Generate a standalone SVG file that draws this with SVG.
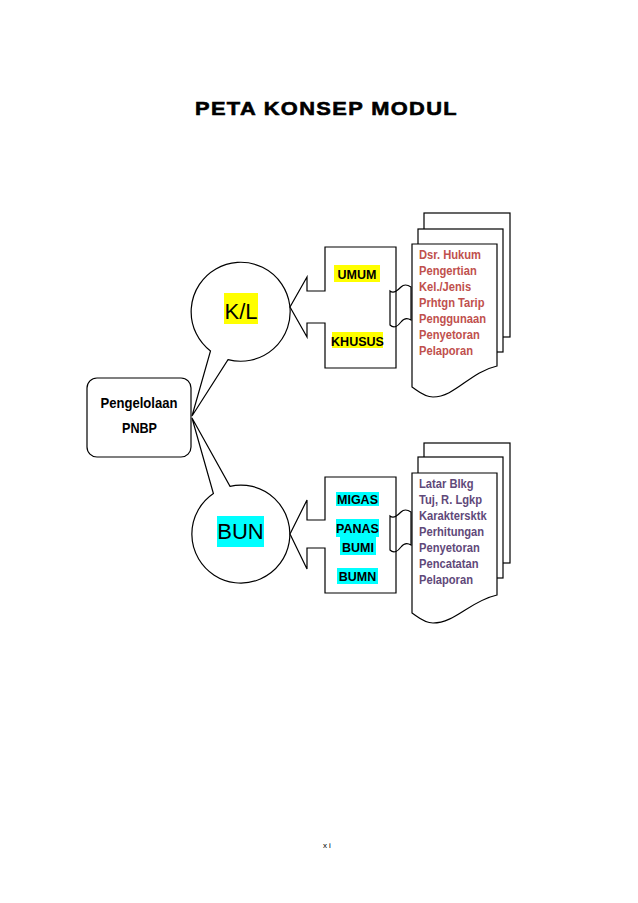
<svg xmlns="http://www.w3.org/2000/svg" width="638" height="903" viewBox="0 0 638 903">
<style>
.sh{fill:#fff;stroke:#000;stroke-width:1.2;stroke-linejoin:miter}
.ln{fill:none;stroke:#000;stroke-width:1.2}
.doc{font-family:"Liberation Sans",Arial,sans-serif;font-weight:bold;font-size:13px}
.lbl{font-family:"Liberation Sans",Arial,sans-serif;font-weight:bold;font-size:12.5px;text-anchor:middle;fill:#000}
.big{font-family:"Liberation Sans",Arial,sans-serif;font-size:22px;text-anchor:middle;fill:#000}
</style>
<rect width="638" height="903" fill="#fff"/>
<text x="195" y="115" textLength="263" lengthAdjust="spacingAndGlyphs" font-family="Liberation Sans, Arial, sans-serif" font-weight="bold" font-size="19" letter-spacing="1.2" stroke="#000" stroke-width="0.6">PETA KONSEP MODUL</text>

<g id="pengelolaan">
<rect class="sh" x="87" y="378" width="104" height="79" rx="10"/>
<text x="139" y="408" textLength="77" lengthAdjust="spacingAndGlyphs" text-anchor="middle" font-family="Liberation Sans, Arial, sans-serif" font-weight="bold" font-size="15">Pengelolaan</text>
<text x="139.5" y="433" textLength="35" lengthAdjust="spacingAndGlyphs" text-anchor="middle" font-family="Liberation Sans, Arial, sans-serif" font-weight="bold" font-size="15">PNBP</text>
</g>

<g id="kl">
<path class="sh" d="M210.5,351 A49.5,49.5 0 1 1 228,359.6 L192,416 Z"/>
<rect x="224" y="293" width="34" height="31" fill="#ffff00"/>
<text class="big" x="241" y="319">K/L</text>
</g>

<g id="bun">
<path class="sh" d="M230,486.3 A49,49 0 1 1 213.4,493.5 L192,418 Z"/>
<rect x="217" y="516" width="47" height="31" fill="#00ffff"/>
<text class="big" x="240.5" y="539">BUN</text>
</g>

<g id="kl-types">
<path class="sh" d="M325,247 L396,247 L396,368 L325,368 L325,323 L307,323 L307,337 L290,307 L307,277 L307,291 L325,291 Z"/>
<rect x="334" y="265" width="46" height="17" fill="#ffff00"/>
<text class="lbl" x="357" y="279">UMUM</text>
<rect x="332" y="332" width="51" height="16" fill="#ffff00"/>
<text class="lbl" x="357.5" y="346">KHUSUS</text>
</g>

<g id="bun-types">
<path class="sh" d="M325,477 L396,477 L396,593 L325,593 L325,548 L307,548 L307,569 L290,534 L307,500 L307,520 L325,520 Z"/>
<rect x="336" y="492" width="43" height="14" fill="#00ffff"/>
<text class="lbl" x="357.5" y="504">MIGAS</text>
<rect x="336" y="519" width="43" height="18" fill="#00ffff"/>
<text class="lbl" x="357.5" y="533">PANAS</text>
<rect x="340" y="537" width="36" height="18" fill="#00ffff"/>
<text class="lbl" x="358" y="552">BUMI</text>
<rect x="337" y="568" width="41" height="16" fill="#00ffff"/>
<text class="lbl" x="357.5" y="581">BUMN</text>
</g>

<g id="kl-docs">
<rect class="sh" x="424" y="213" width="86" height="124"/>
<rect class="sh" x="418" y="229" width="85" height="123"/>
<path class="sh" d="M412,244 L497,244 L497,366 C470,372 455,397 433,397 C424,397 418,391 412,387 Z"/>
<text class="doc" fill="#c0504d" transform="translate(419,0) scale(0.86,1)">
<tspan x="0" y="259">Dsr. Hukum</tspan>
<tspan x="0" y="275">Pengertian</tspan>
<tspan x="0" y="291">Kel./Jenis</tspan>
<tspan x="0" y="307">Prhtgn Tarip</tspan>
<tspan x="0" y="323">Penggunaan</tspan>
<tspan x="0" y="339">Penyetoran</tspan>
<tspan x="0" y="355">Pelaporan</tspan>
</text>
</g>

<g id="bun-docs">
<rect class="sh" x="424" y="443" width="86" height="120"/>
<rect class="sh" x="418" y="457" width="85" height="121"/>
<path class="sh" d="M412,473 L497,473 L497,595 C470,601 455,623 433,623 C424,623 418,617 412,613 Z"/>
<text class="doc" fill="#5f497a" transform="translate(419,0) scale(0.86,1)">
<tspan x="0" y="488">Latar Blkg</tspan>
<tspan x="0" y="504">Tuj, R. Lgkp</tspan>
<tspan x="0" y="520">Karaktersktk</tspan>
<tspan x="0" y="536">Perhitungan</tspan>
<tspan x="0" y="552">Penyetoran</tspan>
<tspan x="0" y="568">Pencatatan</tspan>
<tspan x="0" y="584">Pelaporan</tspan>
</text>
</g>

<g id="connectors">
<path class="ln" d="M390,291 C394,294 398,290 401,287 C404,284 408,285 411,287 L411,320 C408,318 404,318 401,322 C398,326 394,329 390,325 Z"/>
<path class="ln" d="M390,516 C394,519 398,515 401,512 C404,509 408,510 411,512 L411,545 C408,543 404,543 401,547 C398,551 394,554 390,550 Z"/>
</g>

<text x="323" y="848" font-family="Liberation Sans, Arial, sans-serif" font-size="8" letter-spacing="2">xi</text>
</svg>
